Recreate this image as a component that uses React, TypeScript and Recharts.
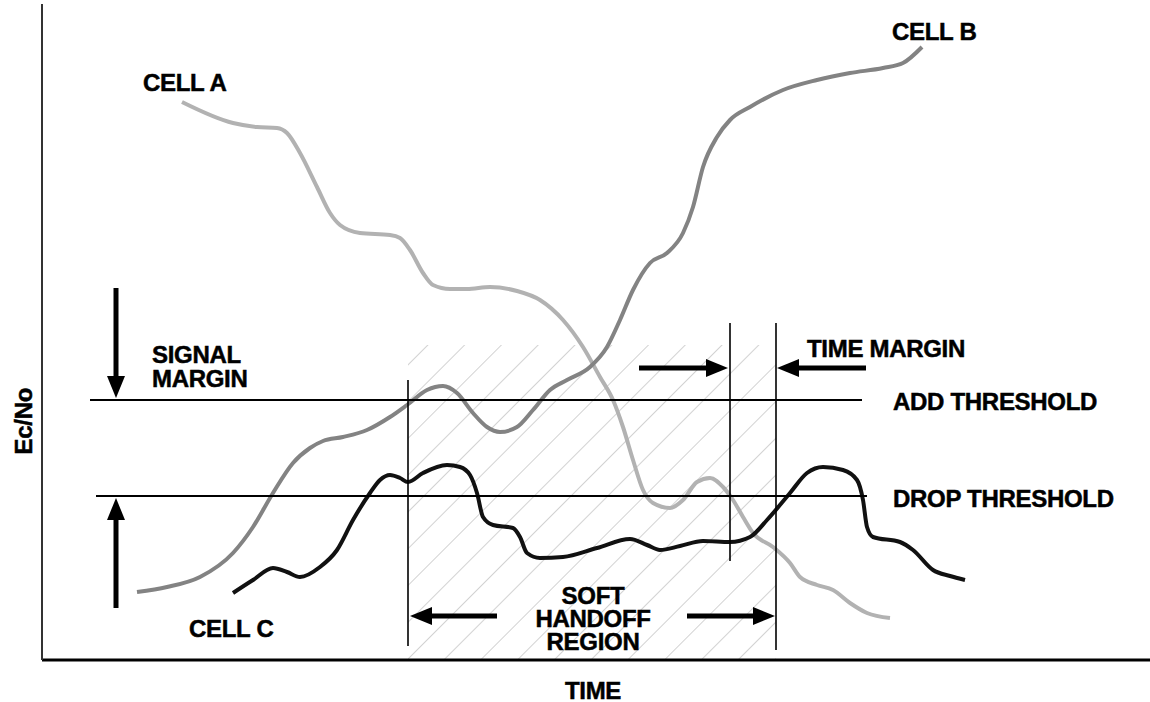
import {
  ComposedChart,
  Line,
  XAxis,
  YAxis,
  ReferenceLine,
  ReferenceArea,
  ReferenceDot,
} from "recharts";

// time (x) and Ec/No (y), arbitrary units
const cellA: [number, number][] = [
  [14.0, 55.8], [19.1, 53.7], [21.5, 53.3], [23.5, 53.2], [24.5, 52.7],
  [25.8, 50.7], [27.5, 47.3], [28.8, 44.7], [29.8, 43.5], [31.8, 42.7],
  [34.8, 42.5], [35.8, 42.2], [36.8, 41.0], [38.1, 38.7], [39.1, 37.5],
  [40.8, 37.1], [42.5, 37.1], [44.8, 37.3], [47.5, 36.9], [49.8, 36.0],
  [52.1, 34.0], [54.1, 31.3], [55.8, 28.3], [57.1, 26.0], [58.1, 23.3],
  [59.1, 20.0], [60.1, 17.0], [61.1, 15.7], [62.8, 15.2], [64.1, 16.0],
  [65.5, 17.8], [66.8, 18.2], [68.1, 17.3], [69.1, 16.0], [70.1, 14.3],
  [71.1, 12.7], [73.1, 11.3], [74.8, 9.7], [75.8, 8.3], [77.5, 7.5],
  [79.1, 7.0], [80.8, 5.7], [82.5, 4.7], [84.8, 4.2],
];

const cellB: [number, number][] = [
  [9.5, 6.8], [12.5, 7.3], [15.8, 8.3], [19.1, 10.7], [21.1, 13.3],
  [23.1, 16.7], [25.1, 19.7], [26.8, 21.2], [28.1, 21.9], [30.1, 22.3],
  [32.5, 23.0], [34.8, 24.3], [36.5, 25.5], [38.5, 27.0], [40.1, 27.4],
  [41.5, 26.7], [43.1, 24.7], [44.5, 23.3], [45.8, 22.8], [47.5, 23.3],
  [49.1, 25.0], [50.8, 27.0], [52.5, 28.0], [54.8, 29.3], [56.5, 31.3],
  [57.8, 34.0], [59.1, 37.0], [60.8, 39.7], [62.5, 40.7], [64.1, 42.7],
  [65.1, 45.3], [66.1, 49.3], [67.5, 52.3], [68.8, 54.0], [70.8, 55.3],
  [74.1, 57.0], [77.5, 58.0], [80.8, 58.7], [84.1, 59.2], [86.1, 59.7],
  [88.0, 61.3],
];

const cellC: [number, number][] = [
  [19.1, 6.7], [21.1, 8.0], [23.1, 9.2], [24.5, 8.8], [25.8, 8.3],
  [27.8, 9.3], [29.5, 11.0], [31.1, 14.0], [32.8, 16.7], [33.8, 18.0],
  [34.8, 18.5], [35.8, 18.2], [36.6, 17.8], [38.1, 18.7], [40.5, 19.5],
  [41.8, 19.3], [42.8, 18.5], [43.5, 16.7], [44.1, 14.3], [45.1, 13.5],
  [47.1, 13.2], [47.8, 12.3], [48.5, 10.7], [49.8, 10.2], [52.1, 10.3],
  [55.5, 11.2], [58.8, 12.1], [60.5, 11.5], [61.8, 11.0], [63.8, 11.4],
  [66.1, 11.9], [68.8, 11.8], [70.8, 12.3], [72.5, 14.0], [74.8, 16.7],
  [76.5, 18.7], [78.1, 19.3], [80.1, 19.0], [81.5, 18.0], [82.1, 16.0],
  [82.5, 13.3], [83.1, 12.3], [85.8, 11.8], [87.1, 11.0], [89.1, 9.0],
  [90.8, 8.4], [92.3, 8.0],
];

const addThreshold = 26.0;
const dropThreshold = 16.4;
const handoffStart = 36.6;
const handoffEnd = 73.4;
const timeMarginStart = 68.8;

// [t1, v1, t2, v2] guide lines
const thresholdLines: [number, number, number, number][] = [
  [4.8, addThreshold, 82.0, addThreshold],
  [5.4, dropThreshold, 82.5, dropThreshold],
];
const markerLines: [number, number, number, number][] = [
  [handoffStart, 1.4, handoffStart, 28.0],
  [timeMarginStart, 9.9, timeMarginStart, 33.7],
  [handoffEnd, 1.0, handoffEnd, 33.7],
];

// arrows: tail -> tip
const arrows: [number, number, number, number][] = [
  [7.4, 37.2, 7.4, 26.2],
  [7.4, 5.2, 7.4, 16.2],
  [59.7, 29.2, 68.6, 29.2],
  [82.4, 29.2, 73.5, 29.2],
  [45.5, 4.4, 36.8, 4.4],
  [64.5, 4.4, 73.3, 4.4],
];

const labels: { text: string; t: number; v: number; anchor: "start" | "middle" }[] = [
  { text: "CELL A", t: 10.1, v: 56.9, anchor: "start" },
  { text: "CELL B", t: 85.0, v: 62.0, anchor: "start" },
  { text: "CELL C", t: 14.7, v: 2.3, anchor: "start" },
  { text: "SIGNAL", t: 11.0, v: 29.7, anchor: "start" },
  { text: "MARGIN", t: 11.0, v: 27.3, anchor: "start" },
  { text: "TIME MARGIN", t: 76.5, v: 30.3, anchor: "start" },
  { text: "ADD THRESHOLD", t: 85.1, v: 25.0, anchor: "start" },
  { text: "DROP THRESHOLD", t: 85.1, v: 15.3, anchor: "start" },
  { text: "SOFT", t: 55.1, v: 5.6, anchor: "middle" },
  { text: "HANDOFF", t: 55.1, v: 3.3, anchor: "middle" },
  { text: "REGION", t: 55.1, v: 1.0, anchor: "middle" },
];

const FONT = "'Liberation Sans', Arial, Helvetica, sans-serif";
const textStyle = {
  fontFamily: FONT,
  fontWeight: "bold" as const,
  fontSize: 24,
  fill: "#000",
  stroke: "#000",
  strokeWidth: 0.5,
  letterSpacing: -0.3,
};

const toPoints = (pts: [number, number][]) => pts.map(([t, v]) => ({ t, v }));

const Arrow = (p: any) => {
  const { x1, y1, x2, y2 } = p;
  const dx = x2 - x1;
  const dy = y2 - y1;
  const len = Math.hypot(dx, dy) || 1;
  const ux = dx / len;
  const uy = dy / len;
  const hl = 22;
  const hw = 9;
  const bx = x2 - ux * hl;
  const by = y2 - uy * hl;
  const pts = `${x2},${y2} ${bx - uy * hw},${by + ux * hw} ${bx + uy * hw},${by - ux * hw}`;
  return (
    <g>
      <line x1={x1} y1={y1} x2={bx + ux * 2} y2={by + uy * 2} stroke="#000" strokeWidth={5} />
      <polygon points={pts} fill="#000" />
    </g>
  );
};

const Hatch = (p: any) => (
  <g>
    <defs>
      <pattern
        id="handoffHatch"
        width={26}
        height={26}
        patternUnits="userSpaceOnUse"
        patternTransform="rotate(45)"
      >
        <line x1={0} y1={0} x2={0} y2={26} stroke="#c6c6c6" strokeWidth={1.6} />
      </pattern>
    </defs>
    <rect x={p.x} y={p.y} width={p.width} height={p.height} fill="url(#handoffHatch)" />
  </g>
);

export default function App() {
  return (
    <div style={{ position: "absolute", left: 0, top: 0, width: 1150, height: 702, background: "#fff" }}>
      <ComposedChart width={1150} height={702} margin={{ top: 4, right: 0, bottom: 0, left: 0 }}>
        <XAxis
          type="number"
          dataKey="t"
          domain={[0, 110.8]}
          allowDataOverflow
          tick={false}
          tickLine={false}
          height={42}
          axisLine={{ stroke: "#000", strokeWidth: 3 }}
          label={{
            content: (props: any) => {
              const vb = props.viewBox;
              return (
                <text x={vb.x + vb.width / 2 - 3} y={vb.y + 39} textAnchor="middle" {...textStyle}>
                  TIME
                </text>
              );
            },
          }}
        />
        <YAxis
          type="number"
          dataKey="v"
          domain={[0, 65.6]}
          allowDataOverflow
          tick={false}
          tickLine={false}
          width={42}
          axisLine={{ stroke: "#333", strokeWidth: 2 }}
          label={{
            content: (props: any) => {
              const vb = props.viewBox;
              const x = vb.x + vb.width - 10;
              const y = vb.y + vb.height * 0.636;
              return (
                <text
                  x={x}
                  y={y}
                  transform={`rotate(-90 ${x} ${y})`}
                  textAnchor="middle"
                  {...textStyle}
                >
                  Ec/No
                </text>
              );
            },
          }}
        />

        <ReferenceArea
          x1={handoffStart}
          x2={handoffEnd}
          y1={0}
          y2={31.5}
          shape={Hatch}
          ifOverflow="visible"
        />

        <Line
          data={toPoints(cellA)}
          dataKey="v"
          type="monotone"
          stroke="#b2b2b2"
          strokeWidth={4}
          dot={false}
          isAnimationActive={false}
        />
        <Line
          data={toPoints(cellB)}
          dataKey="v"
          type="monotone"
          stroke="#838383"
          strokeWidth={4}
          dot={false}
          isAnimationActive={false}
        />
        <Line
          data={toPoints(cellC)}
          dataKey="v"
          type="monotone"
          stroke="#111"
          strokeWidth={4}
          dot={false}
          isAnimationActive={false}
        />

        {thresholdLines.map(([a, b, c, d], i) => (
          <ReferenceLine
            key={`th${i}`}
            segment={[{ x: a, y: b }, { x: c, y: d }]}
            stroke="#000"
            strokeWidth={2}
          />
        ))}
        {markerLines.map(([a, b, c, d], i) => (
          <ReferenceLine
            key={`mk${i}`}
            segment={[{ x: a, y: b }, { x: c, y: d }]}
            stroke="#000"
            strokeWidth={1.6}
          />
        ))}
        {arrows.map(([a, b, c, d], i) => (
          <ReferenceLine
            key={`ar${i}`}
            segment={[{ x: a, y: b }, { x: c, y: d }]}
            shape={Arrow}
          />
        ))}
        {labels.map((l) => (
          <ReferenceDot
            key={l.text}
            x={l.t}
            y={l.v}
            r={0}
            shape={(p: any) => (
              <text x={p.cx} y={p.cy} textAnchor={l.anchor} {...textStyle}>
                {l.text}
              </text>
            )}
          />
        ))}
      </ComposedChart>
    </div>
  );
}
